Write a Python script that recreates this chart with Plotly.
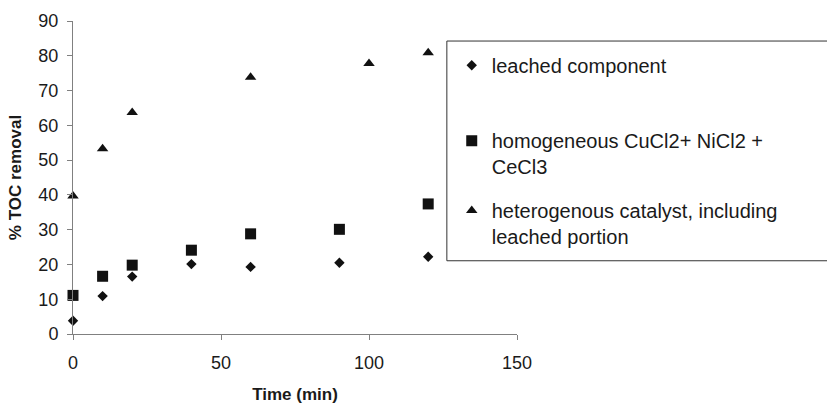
import plotly.graph_objects as go

time_leached = [0, 10, 20, 40, 60, 90, 120]
toc_leached = [3.8, 10.9, 16.5, 20.1, 19.3, 20.5, 22.2]

time_homog = [0, 10, 20, 40, 60, 90, 120]
toc_homog = [11.1, 16.6, 19.8, 24.1, 28.8, 30.1, 37.4]

time_hetero = [0, 10, 20, 60, 100, 120]
toc_hetero = [39.7, 53.3, 63.7, 73.8, 77.8, 80.9]

names = ["leached component",
         "homogeneous CuCl2+ NiCl2 +<br>CeCl3",
         "heterogenous catalyst, including<br>leached portion"]

x_ticks = [0, 50, 100, 150]
y_ticks = [0, 10, 20, 30, 40, 50, 60, 70, 80, 90]

FONT = "Liberation Sans, Arial, sans-serif"
MC = "#111111"

fig = go.Figure()
fig.add_trace(go.Scatter(x=time_leached, y=toc_leached, mode="markers", name=names[0],
                         marker=dict(symbol="diamond", size=8, color=MC), cliponaxis=False,
                         legend="legend"))
fig.add_trace(go.Scatter(x=time_homog, y=toc_homog, mode="markers", name=names[1],
                         marker=dict(symbol="square", size=11, color=MC), cliponaxis=False,
                         legend="legend2"))
fig.add_trace(go.Scatter(x=time_hetero, y=toc_hetero, mode="markers", name=names[2],
                         marker=dict(symbol="triangle-up", size=10, color=MC), cliponaxis=False,
                         legend="legend3"))

leg_common = dict(x=0.853, xanchor="left", yanchor="top", bgcolor="rgba(0,0,0,0)",
                  borderwidth=0, valign="top", itemwidth=30,
                  font=dict(family=FONT, size=20, color="#1a1a1a"))

fig.update_layout(
    template="none",
    width=827, height=404,
    margin=dict(l=73, r=310, t=21, b=70, autoexpand=False),
    paper_bgcolor="white", plot_bgcolor="white",
    font=dict(family=FONT, color="#1a1a1a"),
    showlegend=True,
    legend=dict(y=0.921, **leg_common),
    legend2=dict(y=0.680, **leg_common),
    legend3=dict(y=0.457, **leg_common),
    xaxis=dict(range=[0, 150], tickvals=x_ticks, showline=True, linecolor="#808080", linewidth=1,
               ticks="outside", ticklen=5, tickcolor="#808080", showgrid=False, zeroline=False,
               automargin=False,
               tickfont=dict(size=18), ticklabelstandoff=7,
               title=dict(text="<b>Time (min)</b>", font=dict(size=17), standoff=22)),
    yaxis=dict(range=[0, 90], tickvals=y_ticks, showline=True, linecolor="#808080", linewidth=1,
               ticks="outside", ticklen=5, tickcolor="#808080", showgrid=False, zeroline=False,
               automargin=False,
               tickfont=dict(size=18), ticklabelstandoff=5,
               title=dict(text="<b>% TOC removal</b>", font=dict(size=17), standoff=12)),
    shapes=[dict(type="rect", xref="paper", yref="paper", x0=0.842, x1=1.71, y0=0.234, y1=0.936,
                 line=dict(color="#333333", width=1), fillcolor="rgba(0,0,0,0)", layer="above")],
)

fig.write_html("out.html")
